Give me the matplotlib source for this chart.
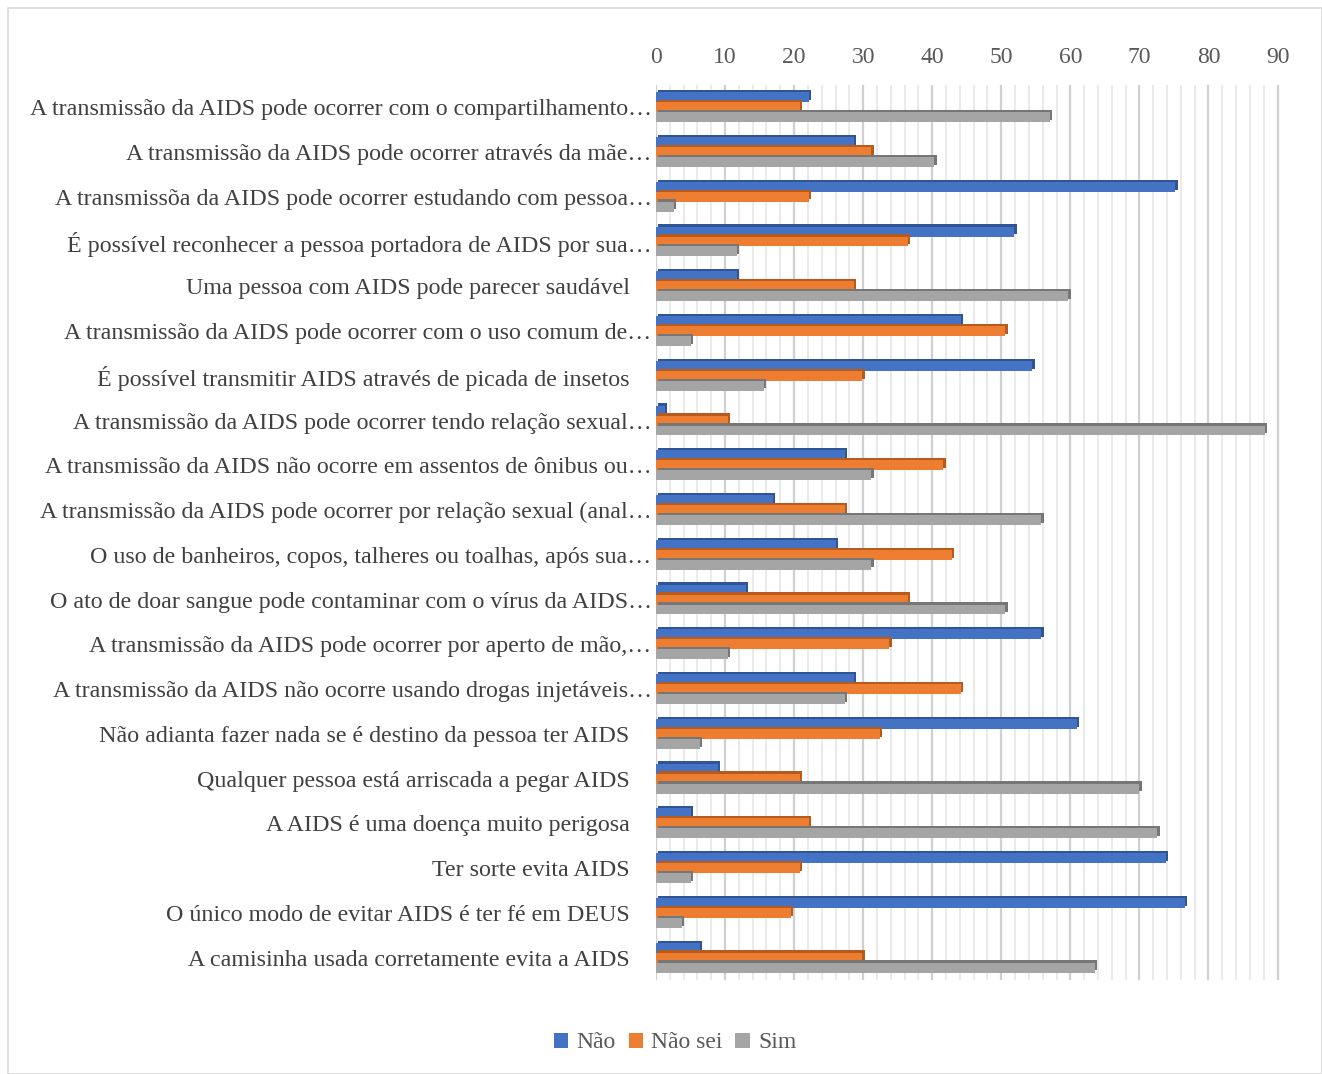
import numpy as np
import matplotlib
matplotlib.use("Agg")
import matplotlib.pyplot as plt
import matplotlib.patheffects as pe
from matplotlib.transforms import ScaledTranslation
from matplotlib.patches import Rectangle, Patch

plt.rcParams['font.family'] = ['Liberation Serif', 'DejaVu Serif']

# data (percent of answers), top to bottom
questions = [
    "A transmissão da AIDS pode ocorrer com o compartilhamento…",
    "A transmissão da AIDS pode ocorrer através da mãe…",
    "A transmissõa da AIDS pode ocorrer estudando com pessoa…",
    "É possível reconhecer a pessoa portadora de AIDS por sua…",
    "Uma pessoa com AIDS pode parecer saudável",
    "A transmissão da AIDS pode ocorrer com o uso comum de…",
    "É possível transmitir AIDS através de picada de insetos",
    "A transmissão da AIDS pode ocorrer tendo relação sexual…",
    "A transmissão da AIDS não ocorre em assentos de ônibus ou…",
    "A transmissão da AIDS pode ocorrer por relação sexual (anal…",
    "O uso de banheiros, copos, talheres ou toalhas, após sua…",
    "O ato de doar sangue pode contaminar com o vírus da AIDS…",
    "A transmissão da AIDS pode ocorrer por aperto de mão,…",
    "A transmissão da AIDS não ocorre usando drogas injetáveis…",
    "Não adianta fazer nada se é destino da pessoa ter AIDS",
    "Qualquer pessoa está arriscada a pegar AIDS",
    "A AIDS é uma doença muito perigosa",
    "Ter sorte evita AIDS",
    "O único modo de evitar AIDS é ter fé em DEUS",
    "A camisinha usada corretamente evita a AIDS",
]
nao = [22.1, 28.6, 75.2, 51.9, 11.7, 44.2, 54.5, 1.3, 27.3, 16.9,
       26.1, 13.0, 55.8, 28.6, 61.0, 9.0, 5.1, 73.8, 76.6, 6.4]
nao_sei = [20.8, 31.2, 22.1, 36.5, 28.6, 50.6, 29.9, 10.4, 41.6, 27.3,
           42.8, 36.5, 33.8, 44.2, 32.4, 20.8, 22.1, 20.8, 19.5, 29.9]
sim = [57.0, 40.3, 2.6, 11.7, 59.7, 5.1, 15.6, 88.2, 31.2, 55.8,
       31.2, 50.6, 10.4, 27.3, 6.4, 70.0, 72.6, 5.1, 3.8, 63.5]

series = [("Não", nao, "#4472C4", "#2F5597"),
          ("Não sei", nao_sei, "#ED7D31", "#B85A1B"),
          ("Sim", sim, "#A5A5A5", "#767676")]

fig = plt.figure(figsize=(13.22, 10.74), dpi=100)
fig.patches.append(Rectangle((0.006, 0.0), 0.994, 0.993, transform=fig.transFigure,
                             fill=False, edgecolor="#d9d9d9", lw=1.2))
ax = fig.add_axes([0.4962, 0.0875, 0.4728, 0.8335])

y = np.arange(len(questions))
h = 0.222
for i, (name, vals, col, dark) in enumerate(series):
    bars = ax.barh(y + (i - 1) * h, vals, height=h, color=col, zorder=3)
    for b in bars:
        b.set_path_effects([pe.SimplePatchShadow(offset=(1.6, 1.6), shadow_rgbFace=dark, alpha=1),
                            pe.Normal()])

ax.set_xlim(0, 90.5)
ax.set_ylim(len(questions) - 0.5, -0.5)
ax.set_xticks(np.arange(0, 91, 10))
ax.set_xticks(np.arange(0, 91, 2), minor=True)
ax.grid(axis='x', which='major', color='#d0d0d0', lw=1.6, zorder=0)
ax.grid(axis='x', which='minor', color='#e6e6e6', lw=1.2, zorder=0)
ax.xaxis.tick_top()
ax.tick_params(axis='x', which='both', length=0, labelsize=17, labelcolor='#595959', pad=12)
ax.set_yticks(y)
ax.set_yticklabels(questions)
ax.tick_params(axis='y', length=0, labelsize=17.3, labelcolor='#404040', pad=19)
for lab in ax.get_yticklabels():
    if lab.get_text().endswith("…"):
        lab.set_transform(lab.get_transform() + ScaledTranslation(0.22, 0, fig.dpi_scale_trans))
for s in ax.spines.values():
    s.set_visible(False)

handles = [Patch(facecolor=col, label=name) for name, _, col, _ in series]
leg = fig.legend(handles=handles, loc='center', bbox_to_anchor=(675 / 1322, 1 - 1043 / 1074),
                 ncol=3, frameon=False, fontsize=17, handlelength=0.6, handleheight=0.6,
                 handletextpad=0.35, columnspacing=0.55, labelcolor='#595959')

fig.savefig("out.png", dpi=100)
